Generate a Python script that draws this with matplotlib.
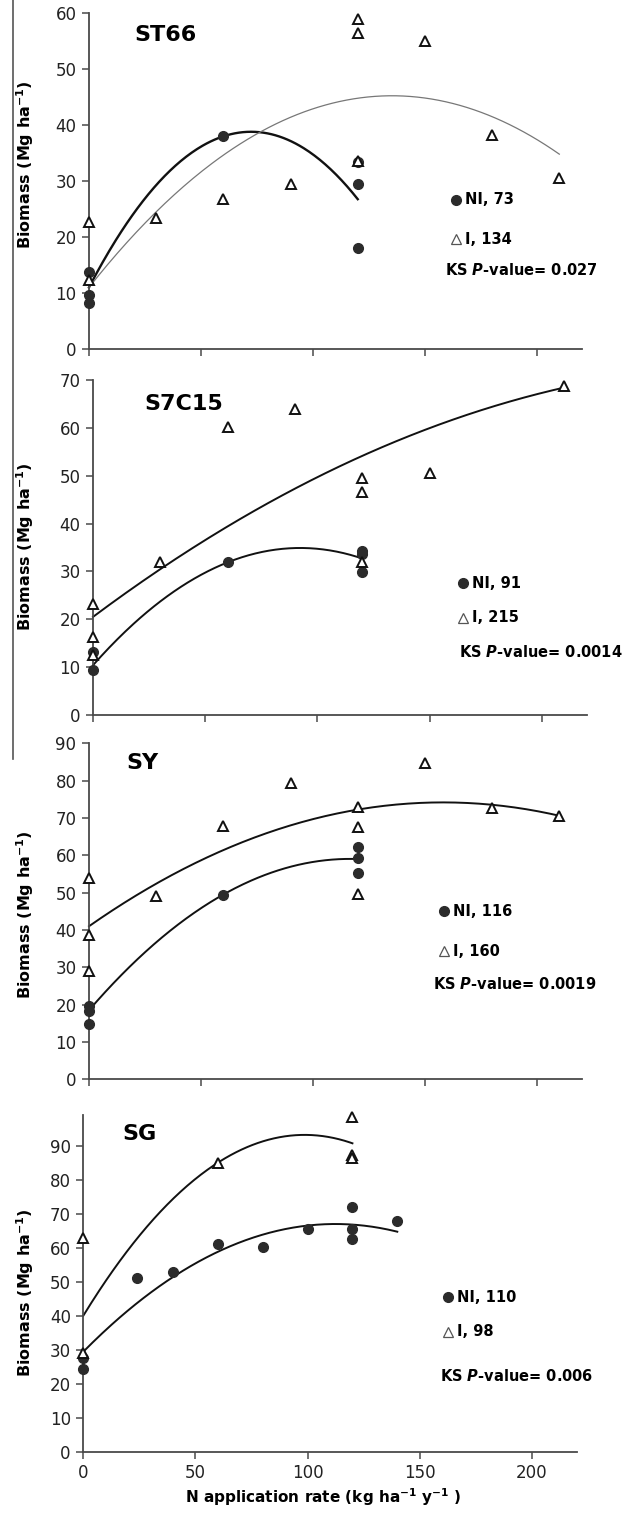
import numpy as np
import matplotlib.pyplot as plt
from matplotlib.lines import Line2D

plt.rcParams['font.family'] = ['DejaVu Sans']
plt.rcParams['mathtext.fontset'] = 'custom'
plt.rcParams['mathtext.rm'] = 'DejaVu Sans:bold'
plt.rcParams['mathtext.it'] = 'DejaVu Sans:bold:italic'
plt.rcParams['mathtext.bf'] = 'DejaVu Sans:bold'

W, H = 640, 1517

titles = ['ST66', 'S7C15', 'SY', 'SG']
y_max = [60, 70, 90, 99]
y_top_tick = [60, 70, 90, 90]
x_ticks = [0, 50, 100, 150, 200]
ni_n = [73, 91, 116, 110]
i_n = [134, 215, 160, 98]
ks_p = ['0.027', '0.0014', '0.0019', '0.006']

# ST66
st66_ni_x = [0, 0, 0, 60, 120, 120, 120]
st66_ni_y = [13.7, 9.6, 8.2, 38.0, 33.4, 29.4, 18.0]
st66_i_x = [0, 0, 30, 60, 90, 120, 120, 120, 150, 180, 210]
st66_i_y = [22.7, 12.3, 23.4, 26.8, 29.4, 59.0, 56.5, 33.6, 55.0, 38.2, 30.5]

# S7C15
s7c15_ni_x = [0, 0, 60, 120, 120, 120]
s7c15_ni_y = [13.2, 9.3, 31.9, 34.3, 33.6, 29.8]
s7c15_i_x = [0, 0, 0, 30, 60, 90, 120, 120, 120, 150, 210]
s7c15_i_y = [23.1, 16.4, 12.6, 32.0, 60.2, 63.9, 49.6, 46.7, 32.0, 50.5, 68.7]

# SY
sy_ni_x = [0, 0, 0, 60, 120, 120, 120]
sy_ni_y = [19.7, 18.3, 14.8, 49.4, 62.1, 59.2, 55.3]
sy_i_x = [0, 0, 0, 30, 60, 90, 120, 120, 120, 150, 180, 210]
sy_i_y = [53.8, 38.6, 29.1, 49.1, 67.9, 79.3, 73.0, 67.5, 49.7, 84.8, 72.8, 70.6]

# SG
sg_ni_x = [0, 0, 24, 40, 60, 80, 100, 120, 120, 120, 140]
sg_ni_y = [27.6, 24.3, 51.1, 52.8, 61.0, 60.3, 65.5, 71.9, 65.4, 62.6, 67.9]
sg_i_x = [0, 0, 60, 120, 120, 120]
sg_i_y = [62.8, 28.9, 84.8, 98.5, 87.2, 86.3]

# quadratic trend lines (c0, c1, c2) and x range
ni_trend = [(11.0, 0.768, -0.005306), (10.4, 0.5308, -0.002875),
            (18.5, 0.6958, -0.002986), (29.4, 0.6684, -0.002973)]
ni_trend_xmax = [120, 120, 120, 140]
i_trend = [(11.0, 0.5058, -0.001869), (20.5, 0.35, -0.00058),
           (41.0, 0.4196, -0.001327), (40.0, 1.0775, -0.005458)]
i_trend_xmax = [210, 210, 210, 120]

ni_x = [st66_ni_x, s7c15_ni_x, sy_ni_x, sg_ni_x]
ni_y = [st66_ni_y, s7c15_ni_y, sy_ni_y, sg_ni_y]
i_x = [st66_i_x, s7c15_i_x, sy_i_x, sg_i_x]
i_y = [st66_i_y, s7c15_i_y, sy_i_y, sg_i_y]

# layout in pixels: left, right, y of zero, y of top
boxes = [(89, 581.7, 349, 13), (93, 586.7, 715, 380),
         (89, 581.7, 1079.3, 743.3), (83.3, 576.7, 1451.7, 1115.1)]
title_pos = [(165, 35), (184, 404), (142, 763), (140, 1134)]
ylab_pos = [(25, 165), (25, 547), (25, 915), (25, 1293)]
leg_pos = [(456, 200, 239, 445, 270), (463, 583, 618, 459, 652),
           (444, 911, 951, 433, 984), (448, 1297, 1332, 440, 1376)]


def fx(x):
    return x / W


def fy(y):
    return 1 - y / H


fig = plt.figure(figsize=(W / 100, H / 100), dpi=100)
spine_col = '#4a4a4a'
dot_col = '#2b2b2b'

for k in range(4):
    l, r, y0, yt = boxes[k]
    ax = fig.add_axes([fx(l), fy(y0), (r - l) / W, (y0 - yt) / H])
    ax.set_xlim(0, 220)
    ax.set_ylim(0, y_max[k])
    for s in ['top', 'right']:
        ax.spines[s].set_visible(False)
    for s in ['left', 'bottom']:
        ax.spines[s].set_color(spine_col)
        ax.spines[s].set_linewidth(1.3)
    ax.set_yticks(np.arange(0, y_top_tick[k] + 1, 10))
    ax.set_xticks(x_ticks)
    ax.tick_params(direction='out', length=5, width=1.1, color=spine_col,
                   labelsize=12, labelcolor='#222222', pad=4)
    if k < 3:
        ax.tick_params(axis='x', labelbottom=False)

    c = ni_trend[k]
    xs = np.linspace(0, ni_trend_xmax[k], 200)
    ax.plot(xs, c[0] + c[1] * xs + c[2] * xs ** 2, color='#111111',
            lw=1.7 if k == 0 else 1.4, zorder=2, clip_on=False)
    c = i_trend[k]
    xs = np.linspace(0, i_trend_xmax[k], 200)
    ax.plot(xs, c[0] + c[1] * xs + c[2] * xs ** 2,
            color='#777777' if k == 0 else '#111111',
            lw=0.9 if k == 0 else 1.4, zorder=2, clip_on=False)

    ax.plot(ni_x[k], ni_y[k], 'o', ms=7, color=dot_col, mec=dot_col,
            zorder=3, clip_on=False)
    ax.plot(i_x[k], i_y[k], '^', ms=6.5, mfc='white', mec='#111111',
            mew=1.4, zorder=4, clip_on=False)

    tx, ty = title_pos[k]
    fig.text(fx(tx), fy(ty), titles[k], fontsize=16, fontweight='bold',
             ha='center', va='center')
    lx, ly = ylab_pos[k]
    fig.text(fx(lx), fy(ly), r'Biomass (Mg ha$^{\mathregular{-1}}$)',
             fontsize=11.5, fontweight='bold', rotation=90,
             ha='center', va='center')

    mx, ny, iy, kx, ky = leg_pos[k]
    fig.add_artist(Line2D([fx(mx)], [fy(ny)], marker='o', ms=7,
                          color=dot_col, transform=fig.transFigure))
    fig.add_artist(Line2D([fx(mx)], [fy(iy)], marker='^', ms=7,
                          mfc='white', mec='#555555', mew=0.9,
                          transform=fig.transFigure))
    fig.text(fx(mx + 9), fy(ny), 'NI, %d' % ni_n[k], fontsize=10.5,
             fontweight='bold', ha='left', va='center')
    fig.text(fx(mx + 9), fy(iy), 'I, %d' % i_n[k], fontsize=10.5,
             fontweight='bold', ha='left', va='center')
    fig.text(fx(kx), fy(ky), r'KS $P$-value= ' + ks_p[k], fontsize=10.5,
             fontweight='bold', ha='left', va='center')

fig.text(fx(323), fy(1497),
         r'N application rate (kg ha$^{\mathregular{-1}}$ y$^{\mathregular{-1}}$ )',
         fontsize=11, fontweight='bold', ha='center', va='center')

# frame line at the left edge of the upper two panels
fig.add_artist(Line2D([fx(13), fx(13)], [fy(0), fy(759)], color='#555555',
                      lw=1.2, transform=fig.transFigure))

fig.savefig('out.png', dpi=100, facecolor='white')
